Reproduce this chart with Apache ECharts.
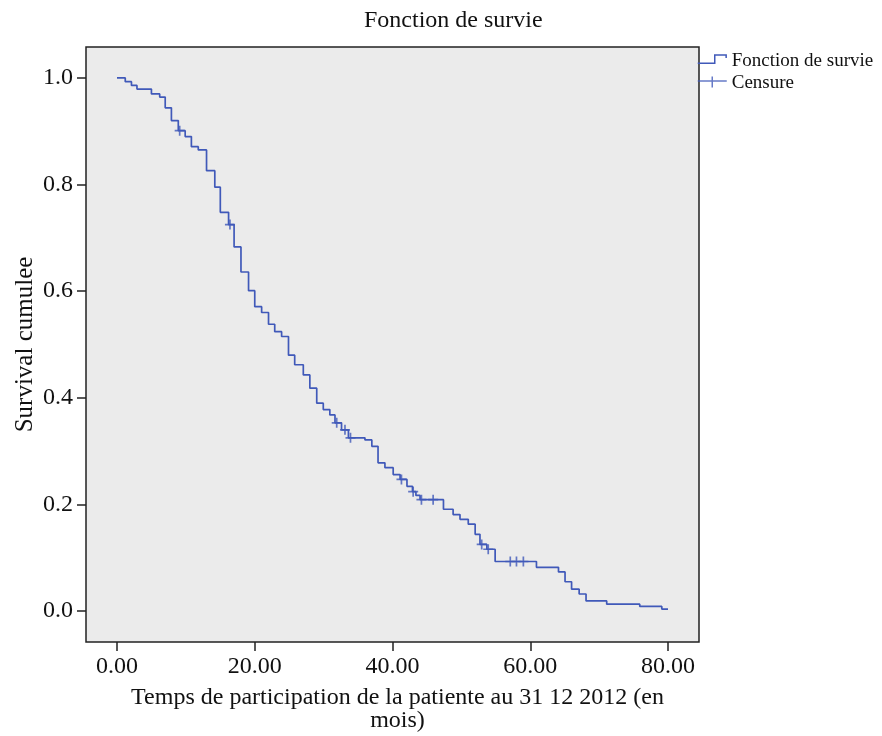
<!DOCTYPE html>
<html>
<head>
<meta charset="utf-8">
<script src="https://cdn.jsdelivr.net/npm/echarts@6/dist/echarts.min.js"></script>
<style>html,body{margin:0;padding:0;background:#fff;}#c{width:882px;height:736px;}</style>
</head>
<body>
<div id="c"></div>
<script>
// Kaplan-Meier step points: time (months) and cumulative survival after the step
const survTimes = [0, 1.2, 2.1, 2.9, 5.0, 6.2, 7.0, 7.9, 8.9, 9.9, 10.8, 11.8, 13.0, 14.2, 15.0, 16.2, 17.0, 18.0, 19.1, 20.0,
  21.0, 22.0, 22.9, 23.9, 24.9, 25.8, 27.05, 28.0, 29.0, 29.95, 30.9, 31.65, 32.6, 33.6, 36.0, 37.0, 37.9, 38.9, 40.1, 41.1,
  42.1, 42.9, 43.4, 44.0, 47.4, 48.8, 49.8, 51.0, 52.0, 52.7, 53.7, 54.9, 60.9, 64.1, 65.05, 66.0, 67.1, 68.1, 71.1, 75.9, 79.1, 80.0];
const survValues = [1.000, 0.993, 0.986, 0.979, 0.970, 0.964, 0.944, 0.920, 0.901, 0.890, 0.871, 0.865, 0.826, 0.795, 0.748, 0.725, 0.683, 0.636, 0.601, 0.571,
  0.560, 0.538, 0.524, 0.515, 0.480, 0.462, 0.443, 0.418, 0.390, 0.378, 0.368, 0.353, 0.340, 0.325, 0.321, 0.309, 0.278, 0.269, 0.256, 0.247,
  0.234, 0.224, 0.217, 0.209, 0.191, 0.181, 0.172, 0.163, 0.144, 0.125, 0.116, 0.093, 0.082, 0.0735, 0.055, 0.041, 0.032, 0.019, 0.013, 0.0088, 0.0037, 0.0037];
// Censored observations
const censorTimes = [9.1, 16.4, 31.9, 33.1, 33.9, 41.3, 43.0, 44.2, 45.9, 52.95, 53.9, 57.1, 58.0, 59.0];
const censorValues = [0.901, 0.725, 0.353, 0.340, 0.325, 0.247, 0.224, 0.209, 0.209, 0.125, 0.116, 0.093, 0.093, 0.093];
// Tick labels
const xTicks = [0, 20, 40, 60, 80];
const yTicks = [0, 0.2, 0.4, 0.6, 0.8, 1.0];

const blue = '#4059b9';
const serif = '"Liberation Serif", "DejaVu Serif", serif';

const lineData = survTimes.map((t, i) => [t, survValues[i]]);
const censorData = censorTimes.map((t, i) => [t, censorValues[i]]);

const chart = echarts.init(document.getElementById('c'), null, {renderer: 'canvas'});
chart.setOption({
  animation: false,
  backgroundColor: '#ffffff',
  title: {
    text: 'Fonction de survie',
    left: 359,
    top: 4,
    textStyle: {fontFamily: serif, fontSize: 24, fontWeight: 'normal', color: '#111'}
  },
  legend: {
    orient: 'vertical',
    left: 697,
    top: 52,
    padding: 0,
    itemWidth: 29,
    itemHeight: 14,
    itemGap: 3,
    symbolKeepAspect: false,
    textStyle: {fontFamily: serif, fontSize: 19, lineHeight: 19, color: '#111'},
    itemStyle: {color: 'rgba(0,0,0,0)', borderColor: blue, borderWidth: 1.5},
    lineStyle: {width: 0},
    data: [
      {name: 'Fonction de survie', icon: 'path://M0,0M29,14M0,8.7L17,8.7L17,0.6L28.4,0.6L28.4,3.5'},
      {name: 'Censure', icon: 'path://M0,0M29,14M0,4.5L29,4.5M14.5,0L14.5,11'}
    ]
  },
  grid: {
    left: 86, top: 47, right: 183, bottom: 94,
    show: true,
    backgroundColor: '#ebebeb',
    borderColor: '#222',
    borderWidth: 1.5,
    containLabel: false,
    outerBoundsMode: 'none'
  },
  xAxis: {
    type: 'value',
    min: -4.5,
    max: 84.5,
    name: 'Temps de participation de la patiente au 31 12 2012 (en\nmois)',
    nameLocation: 'middle',
    nameGap: 44,
    nameMoveOverlap: false,
    nameTextStyle: {fontFamily: serif, fontSize: 24, color: '#111', lineHeight: 23, padding: [0, 0, 0, 10]},
    axisLine: {show: false, onZero: false},
    splitLine: {show: false},
    axisTick: {show: true, customValues: xTicks, length: 9, inside: false, lineStyle: {color: '#222', width: 1.5}},
    axisLabel: {customValues: xTicks, margin: 13, fontFamily: serif, fontSize: 24, color: '#111',
      formatter: v => Number(v).toFixed(2)}
  },
  yAxis: {
    type: 'value',
    min: -0.058,
    max: 1.058,
    name: 'Survival cumulee',
    nameLocation: 'middle',
    nameGap: 48,
    nameMoveOverlap: false,
    nameTextStyle: {fontFamily: serif, fontSize: 25, color: '#111'},
    axisLine: {show: false, onZero: false},
    splitLine: {show: false},
    axisTick: {show: true, customValues: yTicks, length: 9, inside: false, lineStyle: {color: '#222', width: 1.5}},
    axisLabel: {customValues: yTicks, margin: 13, fontFamily: serif, fontSize: 24, color: '#111',
      formatter: v => Number(v).toFixed(1)}
  },
  series: [
    {
      name: 'Fonction de survie',
      type: 'line',
      step: 'end',
      showSymbol: false,
      symbol: 'none',
      data: lineData,
      lineStyle: {color: blue, width: 1.7},
      itemStyle: {color: blue}
    },
    {
      name: 'Censure',
      type: 'scatter',
      symbol: 'path://M5,0L5,10M0,5L10,5',
      symbolSize: 10,
      data: censorData,
      itemStyle: {color: 'rgba(0,0,0,0)', borderColor: blue, borderWidth: 1.7},
      z: 3
    }
  ]
});
</script>
</body>
</html>
